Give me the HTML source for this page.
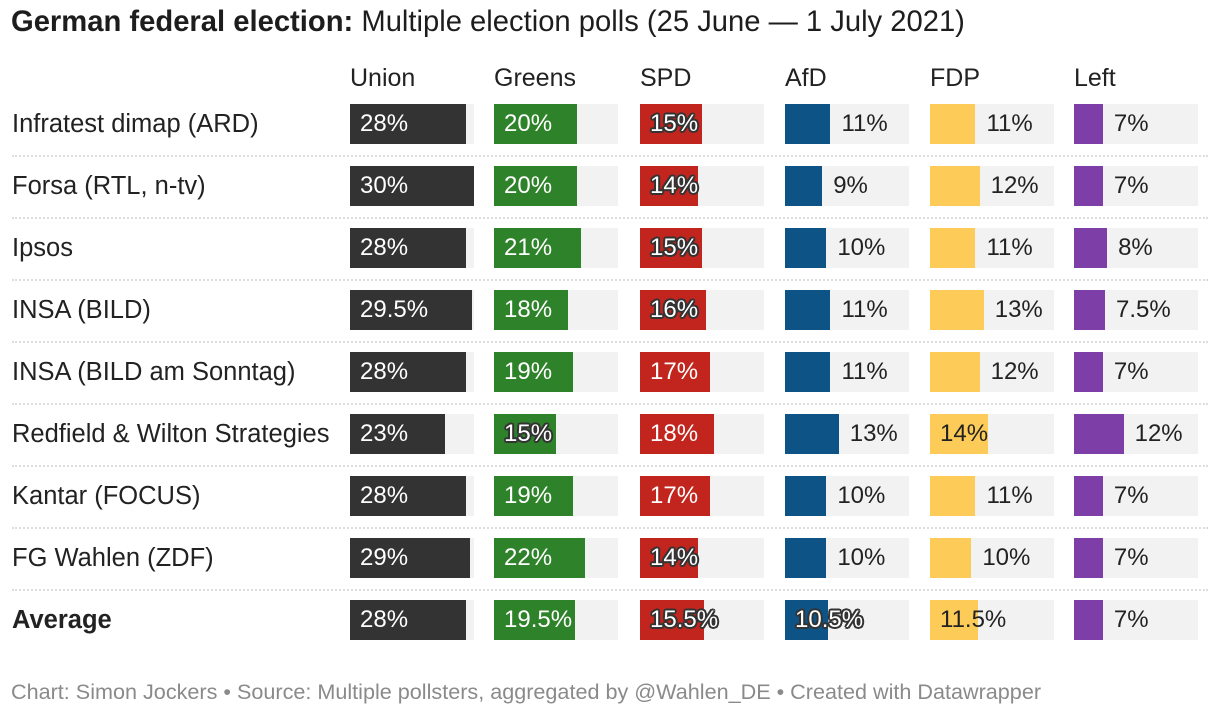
<!DOCTYPE html>
<html><head><meta charset="utf-8">
<style>
body{margin:0;background:#fff;width:1220px;height:716px;overflow:hidden;font-family:"Liberation Sans",sans-serif;color:#222;position:relative}
.a{position:absolute;white-space:nowrap}
.sep{position:absolute;left:12px;width:1196px;height:0;border-top:2px dotted #ddd}
</style></head><body>
<div class="a" style="left:11px;top:6px;font-size:29.2px;color:#1d1d1d"><b>German federal election:</b> Multiple election polls (25 June — 1 July 2021)</div>
<div id="chart"></div>
<div class="a" style="left:11px;top:679px;font-size:21.6px;color:#8a8a8a">Chart: Simon Jockers • Source: Multiple pollsters, aggregated by @Wahlen_DE • Created with Datawrapper</div>
<script>
const parties=["Union","Greens","SPD","AfD","FDP","Left"];
const pollsters=["Infratest dimap (ARD)","Forsa (RTL, n-tv)","Ipsos","INSA (BILD)","INSA (BILD am Sonntag)","Redfield & Wilton Strategies","Kantar (FOCUS)","FG Wahlen (ZDF)","Average"];
const union=[28,30,28,29.5,28,23,28,29,28];
const greens=[20,20,21,18,19,15,19,22,19.5];
const spd=[15,14,15,16,17,18,17,14,15.5];
const afd=[11,9,10,11,11,13,10,10,10.5];
const fdp=[11,12,11,13,12,14,11,10,11.5];
const left=[7,7,8,7.5,7,12,7,7,7];
const series=[union,greens,spd,afd,fdp,left];
const colors=["#333333","#2e8229","#c1251d","#0d5386","#fdcb57","#7d3ea8"];
const colX=[350,494,640,785,930,1074];
const colW=124, maxV=30;
const x=v=>v/maxV*colW;
const chart=document.getElementById('chart');
function mk(cls,style,text){const d=document.createElement('div');d.className=cls;d.style.cssText=style;if(text!=null)d.textContent=text;chart.appendChild(d);return d;}
const halo='color:#fff;text-shadow:-1.5px -1.5px 0 #333,1.5px -1.5px 0 #333,-1.5px 1.5px 0 #333,1.5px 1.5px 0 #333,0 2px 0 #333,2px 0 0 #333,0 -2px 0 #333,-2px 0 0 #333';
parties.forEach((p,j)=>{
  const h=mk('a',`left:${colX[j]}px;top:64px;font-size:25px;color:#222`,p);
  
  
});
pollsters.forEach((name,i)=>{
  const top=104+62*i, avg=i===pollsters.length-1;
  const l=mk('a',`left:12px;top:${top+5}px;font-size:25.5px;line-height:30px;${avg?'font-weight:bold;':''}color:#222`,name);
  
  
  if(i>0){const s=mk('sep',`top:${top-11}px`);
    
    }
  series.forEach((arr,j)=>{
    const v=arr[i], w=x(v);
    const bg=mk('a',`left:${colX[j]}px;top:${top}px;width:${colW}px;height:40px;background:#f2f2f2`);
    
    
    const b=mk('a',`left:${colX[j]}px;top:${top}px;width:${w}px;height:40px;background:${colors[j]}`);
    
    
    let inside, style;
    if(j<3){inside=true;style=v>=17||j===0?'color:#fff':halo;}
    else if(j===3){inside=avg;style=avg?halo:'color:#222';}
    else if(j===4){inside=avg||v>=14;style='color:#222';}
    else {inside=false;style='color:#222';}
    const tx=inside?colX[j]+10:colX[j]+w+11;
    const t=mk('a',`left:${tx}px;top:${top+5}px;font-size:24px;line-height:30px;${style}`,(v+'%'));
    
    
  });
});
</script>
</body></html>
